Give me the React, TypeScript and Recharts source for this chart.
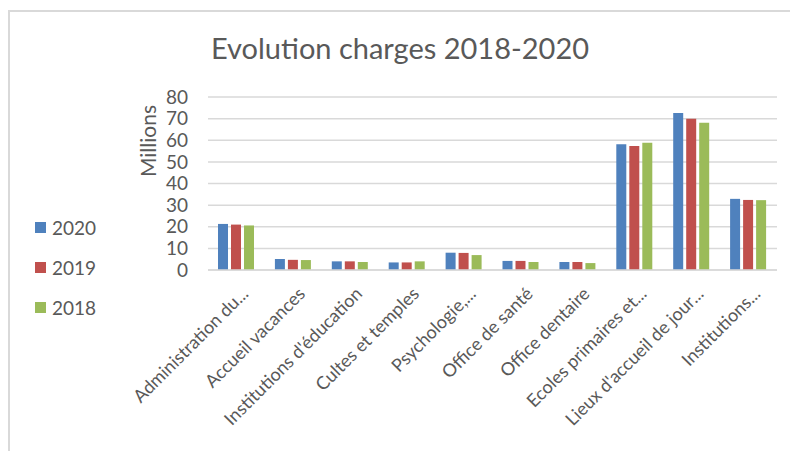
import { BarChart, Bar, XAxis, YAxis, CartesianGrid, Label } from "recharts";

const categories = [
  "Administration du...",
  "Accueil vacances",
  "Institutions d'éducation",
  "Cultes et temples",
  "Psychologie,...",
  "Office de santé",
  "Office dentaire",
  "Ecoles primaires et...",
  "Lieux d'accueil de jour...",
  "Institutions...",
];

// values in millions
const values2020 = [21.3, 5.1, 4.0, 3.5, 8.0, 4.2, 3.7, 58.2, 72.6, 32.9];
const values2019 = [21.0, 4.7, 4.0, 3.5, 7.9, 4.2, 3.7, 57.3, 70.0, 32.4];
const values2018 = [20.6, 4.6, 3.7, 4.0, 6.9, 3.7, 3.2, 58.8, 68.1, 32.3];

const yTicks = [0, 10, 20, 30, 40, 50, 60, 70, 80];

const series = [
  { key: "y2020", name: "2020", color: "#4f81bd" },
  { key: "y2019", name: "2019", color: "#c0504d" },
  { key: "y2018", name: "2018", color: "#9bbb59" },
];

const data = categories.map((name, i) => ({
  name,
  y2020: values2020[i],
  y2019: values2019[i],
  y2018: values2018[i],
}));

const FONT = "Lato, 'Liberation Sans', sans-serif";
const TEXT = "#595959";

function XTick(props: any) {
  const { x, y, payload } = props;
  return (
    <text
      transform={`translate(${x + 13}, ${y + 17}) rotate(-45)`}
      textAnchor="end"
      fill={TEXT}
      fontSize={18}
      fontFamily={FONT}
    >
      {payload.value}
    </text>
  );
}

function YTitle(props: any) {
  const { viewBox } = props;
  const cx = viewBox.x - 1;
  const cy = viewBox.y + 44;
  return (
    <text
      transform={`translate(${cx}, ${cy}) rotate(-90)`}
      textAnchor="middle"
      dominantBaseline="central"
      fill={TEXT}
      fontSize={21}
      fontFamily={FONT}
    >
      Millions
    </text>
  );
}

export default function App() {
  return (
    <div
      style={{
        position: "absolute",
        left: 8,
        top: 10,
        width: 780,
        height: 439,
        borderLeft: "2px solid #d9d9d9",
        borderTop: "2px solid #d9d9d9",
        fontFamily: FONT,
        background: "#fff",
      }}
    >
      <div
        style={{
          position: "absolute",
          left: 0,
          width: 780,
          top: 18,
          textAlign: "center",
          fontSize: 29,
          color: TEXT,
        }}
      >
        Evolution charges 2018-2020
      </div>

      <div style={{ position: "absolute", left: 25, top: 195 }}>
        {series.map((s) => (
          <div
            key={s.key}
            style={{ display: "flex", alignItems: "center", height: 40, color: TEXT, fontSize: 19 }}
          >
            <span style={{ width: 11, height: 11, background: s.color, marginRight: 6 }} />
            {s.name}
          </div>
        ))}
      </div>

      <BarChart
        width={780}
        height={439}
        data={data}
        margin={{ top: 85, right: 13, left: 138, bottom: 0 }}
        barGap={3}
        barSize={10}
      >
        <CartesianGrid vertical={false} stroke="#d9d9d9" strokeWidth={1.5} />
        <XAxis
          dataKey="name"
          interval={0}
          tick={<XTick />}
          tickLine={false}
          axisLine={{ stroke: "#d9d9d9", strokeWidth: 1.5 }}
          height={181}
        />
        <YAxis
          width={60}
          domain={[0, 80]}
          ticks={yTicks}
          interval={0}
          tickLine={false}
          axisLine={false}
          tickMargin={14}
          tick={{ fill: TEXT, fontSize: 19, fontFamily: FONT }}
        >
          <Label content={<YTitle />} />
        </YAxis>
        {series.map((s) => (
          <Bar key={s.key} dataKey={s.key} name={s.name} fill={s.color} isAnimationActive={false} />
        ))}
      </BarChart>
    </div>
  );
}
